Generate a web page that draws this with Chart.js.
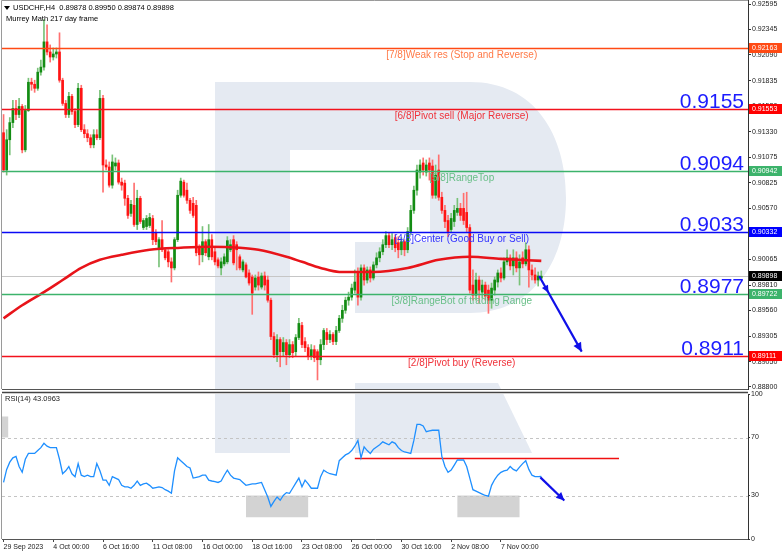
<!DOCTYPE html>
<html>
<head>
<meta charset="utf-8">
<title>USDCHF H4 - Murrey Math</title>
<script src="https://cdn.jsdelivr.net/npm/chart.js@4.4.0/dist/chart.umd.min.js"></script>
<style>
    body { margin: 0; background: #ffffff; width: 782px; height: 555px; overflow: hidden; position: relative; }
    #mainChart { position: absolute; left: 0; top: 0; }
    #rsiChart { position: absolute; left: 0; top: 391px; }
</style>
</head>
<body>
<canvas id="mainChart" width="782" height="391"></canvas>
<canvas id="rsiChart" width="782" height="164"></canvas>
<script>
'use strict';

// ---- data ----
const timeLabels = ['29 Sep 2023', '4 Oct 00:00', '6 Oct 16:00', '11 Oct 08:00', '16 Oct 00:00',
    '18 Oct 16:00', '23 Oct 08:00', '26 Oct 00:00', '30 Oct 16:00', '2 Nov 08:00', '7 Nov 00:00'];
const barsPerLabel = 16;
const slotCount = 240;

const opens = [
    0.9132, 0.9095, 0.9125, 0.9142, 0.9156, 0.9150, 0.9158, 0.9115, 0.9154, 0.9182,
    0.9180, 0.9176, 0.9192, 0.9197, 0.9222, 0.9212, 0.9207, 0.9210, 0.9212, 0.9184,
    0.9161, 0.9150, 0.9168, 0.9153, 0.9140, 0.9176, 0.9135, 0.9131, 0.9127, 0.9120,
    0.9130, 0.9127, 0.9166, 0.9100, 0.9098, 0.9080, 0.9099, 0.9102, 0.9083, 0.9082,
    0.9067, 0.9052, 0.9060, 0.9041, 0.9067, 0.9038, 0.9039, 0.9040, 0.9047, 0.9033,
    0.9016, 0.9026, 0.9016, 0.9014, 0.9004, 0.8998, 0.9026, 0.9070, 0.9083, 0.9075,
    0.9065, 0.9062, 0.9060, 0.9019, 0.9011, 0.9024, 0.9009, 0.9026, 0.9014, 0.9006,
    0.8998, 0.9002, 0.9004, 0.9016, 0.9026, 0.9021, 0.9009, 0.8996, 0.9001, 0.8993,
    0.8989, 0.8979, 0.8989, 0.8979, 0.8990, 0.8986, 0.8966, 0.8930, 0.8912, 0.8927,
    0.8915, 0.8924, 0.8912, 0.8922, 0.8915, 0.8929, 0.8941, 0.8925, 0.8919, 0.8910,
    0.8917, 0.8915, 0.8907, 0.8922, 0.8934, 0.8927, 0.8932, 0.8925, 0.8936, 0.8948,
    0.8956, 0.8966, 0.8969, 0.8976, 0.8994, 0.8969, 0.8998, 0.8986, 0.8996, 0.8988,
    0.9001, 0.9008, 0.9014, 0.9021, 0.9030, 0.9021, 0.9028, 0.9023, 0.9016, 0.9024,
    0.9016, 0.9034, 0.9055, 0.9075, 0.9093, 0.9102, 0.9093, 0.9102, 0.9099, 0.9070,
    0.9095, 0.9068, 0.9055, 0.9045, 0.9036, 0.9044, 0.9053, 0.9057, 0.9057, 0.9053,
    0.9038, 0.8981, 0.8971, 0.8986, 0.8974, 0.8981, 0.8976, 0.8966, 0.8976, 0.8984,
    0.8993, 0.8988, 0.9004, 0.9008, 0.9000, 0.9008, 0.8998, 0.9008, 0.9002, 0.9016,
    0.8996, 0.8991, 0.8986, 0.89878
];
const highs = [
    0.9150, 0.9135, 0.9147, 0.9164, 0.9164, 0.9166, 0.9160, 0.9159, 0.9186, 0.9186,
    0.9184, 0.9196, 0.9204, 0.9244, 0.9239, 0.9219, 0.9216, 0.9216, 0.9231, 0.9186,
    0.9164, 0.9172, 0.9170, 0.9156, 0.9181, 0.9179, 0.9140, 0.9135, 0.9130, 0.9135,
    0.9135, 0.9174, 0.9169, 0.9105, 0.9103, 0.9110, 0.9107, 0.9105, 0.9087, 0.9085,
    0.9070, 0.9065, 0.9082, 0.9075, 0.9069, 0.9047, 0.9050, 0.9052, 0.9050, 0.9036,
    0.9028, 0.9045, 0.9018, 0.9016, 0.9008, 0.9028, 0.9075, 0.9087, 0.9085, 0.9082,
    0.9067, 0.9068, 0.9065, 0.9021, 0.9039, 0.9026, 0.9041, 0.9031, 0.9018, 0.9008,
    0.9008, 0.9012, 0.9029, 0.9026, 0.9030, 0.9024, 0.9011, 0.9006, 0.9003, 0.8996,
    0.8991, 0.8991, 0.8994, 0.8993, 0.8994, 0.8990, 0.8968, 0.8934, 0.8932, 0.8929,
    0.8929, 0.8927, 0.8927, 0.8925, 0.8932, 0.8948, 0.8944, 0.8929, 0.8922, 0.8922,
    0.8921, 0.8917, 0.8927, 0.8938, 0.8938, 0.8936, 0.8934, 0.8940, 0.8951, 0.8961,
    0.8969, 0.8974, 0.8982, 0.8996, 0.8998, 0.9001, 0.9001, 0.8999, 0.8999, 0.9004,
    0.9013, 0.9018, 0.9026, 0.9034, 0.9033, 0.9032, 0.9031, 0.9029, 0.9028, 0.9026,
    0.9038, 0.9060, 0.9079, 0.9100, 0.9105, 0.9107, 0.9105, 0.9107, 0.9105, 0.9100,
    0.9110, 0.9073, 0.9060, 0.9050, 0.9052, 0.9060, 0.9067, 0.9062, 0.9072, 0.9073,
    0.9041, 0.8996, 0.8993, 0.8990, 0.8986, 0.8984, 0.8981, 0.8983, 0.8989, 0.8996,
    0.8998, 0.9008, 0.9016, 0.9011, 0.9016, 0.9014, 0.9011, 0.9014, 0.9023, 0.9020,
    0.9001, 0.8998, 0.8994, 0.89950
];
const lows = [
    0.9093, 0.9090, 0.9110, 0.9137, 0.9145, 0.9147, 0.9112, 0.9113, 0.9153, 0.9174,
    0.9172, 0.9174, 0.9189, 0.9194, 0.9209, 0.9202, 0.9204, 0.9206, 0.9182, 0.9159,
    0.9147, 0.9147, 0.9150, 0.9137, 0.9138, 0.9133, 0.9127, 0.9123, 0.9117, 0.9117,
    0.9125, 0.9125, 0.9073, 0.9095, 0.9078, 0.9077, 0.9095, 0.9081, 0.9075, 0.9060,
    0.9047, 0.9049, 0.9039, 0.9036, 0.9042, 0.9036, 0.9036, 0.9038, 0.9021, 0.9021,
    0.8999, 0.9014, 0.9006, 0.8999, 0.8984, 0.8996, 0.9024, 0.9068, 0.9068, 0.9062,
    0.9052, 0.9048, 0.9010, 0.9001, 0.9004, 0.9010, 0.9006, 0.9006, 0.9001, 0.8998,
    0.8991, 0.9000, 0.9002, 0.9014, 0.9001, 0.8996, 0.8996, 0.8994, 0.8988, 0.8981,
    0.8952, 0.8976, 0.8976, 0.8977, 0.8976, 0.8964, 0.8927, 0.8909, 0.8905, 0.8900,
    0.8911, 0.8902, 0.8909, 0.8909, 0.8911, 0.8927, 0.8919, 0.8915, 0.8907, 0.8907,
    0.8905, 0.8887, 0.8902, 0.8917, 0.8922, 0.8924, 0.8922, 0.8922, 0.8934, 0.8944,
    0.8953, 0.8961, 0.8966, 0.8973, 0.8961, 0.8966, 0.8981, 0.8983, 0.8984, 0.8986,
    0.8998, 0.9004, 0.9011, 0.9018, 0.9018, 0.9016, 0.9014, 0.9008, 0.9011, 0.9010,
    0.9013, 0.9031, 0.9052, 0.9070, 0.9087, 0.9090, 0.9089, 0.9085, 0.9067, 0.9067,
    0.9065, 0.9052, 0.9038, 0.9029, 0.9033, 0.9039, 0.9050, 0.9045, 0.9041, 0.9034,
    0.8973, 0.8966, 0.8966, 0.8963, 0.8968, 0.8966, 0.8953, 0.8958, 0.8971, 0.8979,
    0.8984, 0.8986, 0.9001, 0.8996, 0.8991, 0.8994, 0.8981, 0.8998, 0.9000, 0.8979,
    0.8986, 0.8983, 0.8980, 0.89874
];
const closes = [
    0.9095, 0.9125, 0.9142, 0.9156, 0.9150, 0.9158, 0.9115, 0.9154, 0.9182, 0.9180,
    0.9176, 0.9192, 0.9197, 0.9222, 0.9212, 0.9207, 0.9210, 0.9212, 0.9184, 0.9161,
    0.9150, 0.9168, 0.9153, 0.9140, 0.9176, 0.9135, 0.9131, 0.9127, 0.9120, 0.9130,
    0.9127, 0.9166, 0.9100, 0.9098, 0.9080, 0.9103, 0.9102, 0.9083, 0.9080, 0.9067,
    0.9050, 0.9061, 0.9041, 0.9067, 0.9044, 0.9045, 0.9047, 0.9048, 0.9026, 0.9024,
    0.9026, 0.9016, 0.9008, 0.9004, 0.8998, 0.9026, 0.9070, 0.9084, 0.9070, 0.9065,
    0.9055, 0.9050, 0.9013, 0.9011, 0.9024, 0.9013, 0.9026, 0.9009, 0.9004, 0.9000,
    0.9004, 0.9009, 0.9025, 0.9021, 0.9003, 0.9016, 0.8998, 0.9004, 0.8989, 0.8983,
    0.8973, 0.8988, 0.8981, 0.8990, 0.8981, 0.8966, 0.8930, 0.8912, 0.8927, 0.8915,
    0.8924, 0.8912, 0.8922, 0.8914, 0.8929, 0.8943, 0.8922, 0.8919, 0.8910, 0.8917,
    0.8909, 0.8907, 0.8922, 0.8936, 0.8927, 0.8932, 0.8925, 0.8936, 0.8948, 0.8956,
    0.8966, 0.8969, 0.8978, 0.8984, 0.8969, 0.8998, 0.8986, 0.8996, 0.8988, 0.9001,
    0.9008, 0.9014, 0.9021, 0.9030, 0.9021, 0.9026, 0.9018, 0.9016, 0.9024, 0.9016,
    0.9034, 0.9055, 0.9075, 0.9095, 0.9100, 0.9095, 0.9100, 0.9095, 0.9070, 0.9090,
    0.9068, 0.9055, 0.9044, 0.9034, 0.9047, 0.9055, 0.9057, 0.9050, 0.9045, 0.9038,
    0.8976, 0.8971, 0.8986, 0.8976, 0.8981, 0.8970, 0.8966, 0.8978, 0.8986, 0.8993,
    0.8988, 0.9004, 0.9008, 0.9000, 0.9008, 0.8998, 0.9004, 0.9002, 0.9016, 0.8996,
    0.8991, 0.8986, 0.8990, 0.89898
];

// moving average read at a few bars; the line joins them
const maBars = [0, 6, 13, 19, 25, 31, 38, 47, 57, 66, 76, 82, 91, 96, 102, 108, 119, 130, 140, 150, 160, 173];
const maValues = [0.8948, 0.8961, 0.8974, 0.8986, 0.8998, 0.9006, 0.9011, 0.9016, 0.9018, 0.9019, 0.9018,
    0.9016, 0.9009, 0.9004, 0.8998, 0.8994, 0.8994, 0.8998, 0.9006, 0.9009, 0.9007, 0.9005];

const rsiValues = [
    39, 48, 53, 56, 57, 50, 46, 55, 59, 59,
    59, 61, 63, 66, 64, 63, 63, 63, 55, 45,
    47, 50, 45, 43, 52, 44, 43, 44, 43, 43,
    52, 47, 40.6, 40.6, 37, 43, 42, 41, 37, 36,
    36, 35, 37, 40, 37, 38, 38.5, 37, 35, 35.5,
    36, 35.5, 34, 33, 31.6, 47, 56, 54, 52, 50,
    49, 42, 42.5, 43, 44, 44, 40.6, 40, 39.5, 39,
    40, 44, 47.5, 44, 42, 41.5, 41, 39, 37, 37.5,
    38, 38, 38.5, 39, 34, 29, 22.5, 26, 29, 26.7,
    30, 32, 31.5, 35, 38.5, 42, 36, 40.6, 38, 35,
    35, 35, 43, 47.5, 46, 45, 44.5, 44, 54, 56,
    58, 59, 61, 64, 68, 56, 63.5, 61, 59, 62,
    63.5, 65, 67, 66, 65, 67, 66, 63, 61, 60,
    59.5, 59, 68, 79, 79, 78, 74, 74.5, 75, 75,
    75, 57, 50, 46, 47.5, 51, 54.5, 54.5, 54.5, 50,
    42, 34, 33, 32, 31, 30, 29.5, 37, 41, 44,
    46, 47, 47.5, 50, 48, 47, 49.6, 52, 54, 48,
    44, 43, 43, 43.1
];

const priceTicks = [0.92595, 0.92345, 0.92090, 0.91835, 0.91580, 0.91330, 0.91075, 0.90825,
    0.90570, 0.90315, 0.90065, 0.89810, 0.89560, 0.89305, 0.89050, 0.88800];
const priceMin = 0.88780;
const priceMax = 0.92635;
const rsiTicks = [0, 30, 70, 100];
const rsiLevels = [30, 70];

// Murrey Math levels
const murreyLevels = [0.92163, 0.91553, 0.90942, 0.90332, 0.89722, 0.89111];
const murreyNames = ['[7/8]Weak res (Stop and Reverse)', '[6/8]Pivot sell (Major Reverse)', '[5/8]RangeTop',
    '[4/8]Center (Good Buy or Sell)', '[3/8]RangeBot of trading Range', '[2/8]Pivot buy (Reverse)'];
const murreyBig = ['', '0.9155', '0.9094', '0.9033', '0.8977', '0.8911'];
const murreyLineColors = ['#ff4a14', '#f2121c', '#3cb36b', '#0a0af5', '#3cb36b', '#f2121c'];
const murreyTextColors = ['#ff7a48', '#f0323a', '#69bf88', '#3434ff', '#69bf88', '#f0323a'];

// price tags on the right axis
const tagValues = [0.92163, 0.91553, 0.90942, 0.90332, 0.89898, 0.89722, 0.89111];
const tagColors = ['#ff4a14', '#ff0000', '#3cb36b', '#0000ff', '#000000', '#3cb36b', '#ff0000'];
const lastPrice = 0.89898;

const headerText = 'USDCHF,H4  0.89878 0.89950 0.89874 0.89898';
const indicatorText = 'Murrey Math 217 day frame';
const rsiText = 'RSI(14) 43.0963';

// drawn objects: [bar index, value]
const priceArrow = [[172.3, 0.8990], [186, 0.8915]];
const rsiArrow = [[172.7, 42.5], [180.4, 26.5]];
const rsiResistance = { from: 113, to: 198, value: 56 };
const rsiBoxes = [
    { from: -0.5, to: 1.5, low: 70, high: 84.5 },
    { from: 78, to: 98, low: 15, high: 30 },
    { from: 146, to: 166, low: 15, high: 30 }
];

// ---- chart setup ----
Chart.defaults.font.family = "'Liberation Sans', Arial, sans-serif";
Chart.defaults.color = '#1a1a1a';

const slotLabels = Array.from({ length: slotCount }, (_, i) =>
    (i % barsPerLabel === 0 && i / barsPerLabel < timeLabels.length) ? timeLabels[i / barsPerLabel] : '');

const isUp = opens.map((o, i) => closes[i] >= o);
const bodyData = opens.map((o, i) => {
    const c = closes[i];
    if (Math.abs(c - o) < 0.0001) {
        const m = (o + c) / 2;
        return [m - 0.00005, m + 0.00005];
    }
    return [o, c];
});
const wickData = lows.map((l, i) => [l, highs[i]]);
const maData = new Array(opens.length).fill(null);
maBars.forEach((b, k) => { maData[b] = maValues[k]; });

const LOGO = '#e5eaf2';

/**
 * Big faint "R" watermark, in page pixels
 */
function drawLogo(ctx, dy) {
    ctx.fillStyle = LOGO;
    ctx.fillRect(215, 82 - dy, 75, 371);
    ctx.beginPath();
    ctx.moveTo(290, 82 - dy);
    ctx.lineTo(470, 82 - dy);
    ctx.bezierCurveTo(535, 82 - dy, 566, 135 - dy, 566, 198 - dy);
    ctx.bezierCurveTo(566, 265 - dy, 530, 313 - dy, 470, 313 - dy);
    ctx.lineTo(355, 313 - dy);
    ctx.lineTo(355, 242 - dy);
    ctx.lineTo(430, 242 - dy);
    ctx.lineTo(430, 150 - dy);
    ctx.lineTo(290, 150 - dy);
    ctx.closePath();
    ctx.fill();
    ctx.beginPath();
    ctx.moveTo(355, 383 - dy);
    ctx.lineTo(498, 383 - dy);
    ctx.lineTo(532, 453 - dy);
    ctx.lineTo(355, 453 - dy);
    ctx.closePath();
    ctx.fill();
}

function arrowHead(ctx, x1, y1, x2, y2, size) {
    const ang = Math.atan2(y2 - y1, x2 - x1);
    ctx.beginPath();
    ctx.moveTo(x2, y2);
    ctx.lineTo(x2 - size * Math.cos(ang - 0.45), y2 - size * Math.sin(ang - 0.45));
    ctx.lineTo(x2 - size * Math.cos(ang + 0.45), y2 - size * Math.sin(ang + 0.45));
    ctx.closePath();
    ctx.fill();
}

function drawArrow(ctx, x1, y1, x2, y2, color, width, size) {
    ctx.strokeStyle = color;
    ctx.fillStyle = color;
    ctx.lineWidth = width;
    ctx.beginPath();
    ctx.moveTo(x1, y1);
    ctx.lineTo(x2, y2);
    ctx.stroke();
    arrowHead(ctx, x1, y1, x2, y2, size);
}

function clipArea(ctx, a) {
    ctx.beginPath();
    ctx.rect(a.left, a.top, a.right - a.left, a.bottom - a.top);
    ctx.clip();
}

const mainDecor = {
    id: 'mainDecor',
    beforeDatasetsDraw(chart) {
        const { ctx, chartArea: a, scales: { y } } = chart;
        ctx.save();
        clipArea(ctx, a);
        drawLogo(ctx, 0);
        const py = Math.round(y.getPixelForValue(lastPrice)) + 0.5;
        ctx.strokeStyle = '#c6c6c6';
        ctx.lineWidth = 1;
        ctx.beginPath();
        ctx.moveTo(a.left, py);
        ctx.lineTo(a.right, py);
        ctx.stroke();
        ctx.restore();
    },
    afterDatasetsDraw(chart) {
        const { ctx, chartArea: a, scales: { x, y } } = chart;
        ctx.save();
        clipArea(ctx, a);
        const labelX = x.getPixelForValue(147.4);
        murreyLevels.forEach((lv, k) => {
            const py = Math.round(y.getPixelForValue(lv)) + 0.5;
            ctx.strokeStyle = murreyLineColors[k];
            ctx.lineWidth = 1.4;
            ctx.beginPath();
            ctx.moveTo(a.left, py);
            ctx.lineTo(a.right, py);
            ctx.stroke();

            ctx.font = "10px 'Liberation Sans', Arial, sans-serif";
            ctx.fillStyle = murreyTextColors[k];
            ctx.textAlign = 'center';
            ctx.textBaseline = 'top';
            ctx.fillText(murreyNames[k], labelX, py + 2);

            if (murreyBig[k]) {
                ctx.font = "21px 'Liberation Sans', Arial, sans-serif";
                ctx.fillStyle = '#1c1cff';
                ctx.textAlign = 'right';
                ctx.textBaseline = 'alphabetic';
                ctx.fillText(murreyBig[k], a.right - 4, py - 2);
            }
        });

        const [p1, p2] = priceArrow;
        const x1 = x.getPixelForValue(p1[0]), y1 = y.getPixelForValue(p1[1]);
        const x2 = x.getPixelForValue(p2[0]), y2 = y.getPixelForValue(p2[1]);
        drawArrow(ctx, x1, y1, x2, y2, '#1010e8', 2.2, 10);
        const t = 0.22;
        arrowHead(ctx, x1, y1, x1 + (x2 - x1) * t, y1 + (y2 - y1) * t, 8);
        ctx.restore();
    },
    afterDraw(chart) {
        const { ctx, chartArea: a, scales: { y } } = chart;
        ctx.save();
        // frame
        ctx.strokeStyle = '#9a9a9a';
        ctx.lineWidth = 1;
        ctx.beginPath();
        ctx.moveTo(a.left - 0.5, a.bottom);
        ctx.lineTo(a.left - 0.5, a.top + 0.5);
        ctx.lineTo(a.right, a.top + 0.5);
        ctx.stroke();
        ctx.strokeStyle = '#555555';
        ctx.beginPath();
        ctx.moveTo(a.left, a.bottom + 0.5);
        ctx.lineTo(a.right, a.bottom + 0.5);
        ctx.stroke();

        // price tags
        ctx.font = "7px 'Liberation Sans', Arial, sans-serif";
        ctx.textAlign = 'left';
        ctx.textBaseline = 'middle';
        tagValues.forEach((v, k) => {
            const py = Math.round(y.getPixelForValue(v));
            ctx.fillStyle = tagColors[k];
            ctx.fillRect(a.right + 1, py - 5, 34, 10);
            ctx.fillStyle = '#ffffff';
            ctx.fillText(v.toFixed(5), a.right + 4, py + 0.5);
        });

        // header
        ctx.fillStyle = '#000000';
        ctx.beginPath();
        ctx.moveTo(4, 6);
        ctx.lineTo(10, 6);
        ctx.lineTo(7, 10);
        ctx.closePath();
        ctx.fill();
        ctx.font = "7.5px 'Liberation Sans', Arial, sans-serif";
        ctx.textBaseline = 'middle';
        ctx.fillText(headerText, 13, 8);
        ctx.fillText(indicatorText, 6, 19);
        ctx.restore();
    }
};

const rsiDecor = {
    id: 'rsiDecor',
    beforeDatasetsDraw(chart) {
        const { ctx, chartArea: a, scales: { x, y } } = chart;
        ctx.save();
        clipArea(ctx, a);
        drawLogo(ctx, 391);
        ctx.fillStyle = '#d3d3d3';
        rsiBoxes.forEach(b => {
            const x1 = x.getPixelForValue(b.from), x2 = x.getPixelForValue(b.to);
            const y1 = y.getPixelForValue(b.high), y2 = y.getPixelForValue(b.low);
            ctx.fillRect(x1, y1, x2 - x1, y2 - y1);
        });
        ctx.strokeStyle = '#c4c4c4';
        ctx.lineWidth = 1;
        ctx.setLineDash([3, 3]);
        rsiLevels.forEach(v => {
            const py = Math.round(y.getPixelForValue(v)) + 0.5;
            ctx.beginPath();
            ctx.moveTo(a.left, py);
            ctx.lineTo(a.right, py);
            ctx.stroke();
        });
        ctx.setLineDash([]);
        ctx.strokeStyle = '#f01010';
        ctx.lineWidth = 1.5;
        const ry = Math.round(y.getPixelForValue(rsiResistance.value)) + 0.5;
        ctx.beginPath();
        ctx.moveTo(x.getPixelForValue(rsiResistance.from), ry);
        ctx.lineTo(x.getPixelForValue(rsiResistance.to), ry);
        ctx.stroke();
        ctx.restore();
    },
    afterDatasetsDraw(chart) {
        const { ctx, chartArea: a, scales: { x, y } } = chart;
        ctx.save();
        clipArea(ctx, a);
        const [p1, p2] = rsiArrow;
        drawArrow(ctx, x.getPixelForValue(p1[0]), y.getPixelForValue(p1[1]),
            x.getPixelForValue(p2[0]), y.getPixelForValue(p2[1]), '#1010e8', 2.2, 9);
        ctx.restore();

        ctx.save();
        ctx.strokeStyle = '#9a9a9a';
        ctx.lineWidth = 1;
        ctx.beginPath();
        ctx.moveTo(a.left - 0.5, a.top);
        ctx.lineTo(a.left - 0.5, a.bottom);
        ctx.stroke();
        ctx.strokeStyle = '#444444';
        ctx.lineWidth = 1.5;
        ctx.beginPath();
        ctx.moveTo(a.left, a.top - 1.5);
        ctx.lineTo(a.right, a.top - 1.5);
        ctx.stroke();
        ctx.fillStyle = '#1a1a1a';
        ctx.font = "7.5px 'Liberation Sans', Arial, sans-serif";
        ctx.textBaseline = 'middle';
        ctx.fillText(rsiText, 5, 8);
        ctx.restore();
    }
};

function fixWidth(scale) {
    scale.width = 34;
    scale.paddingTop = 0;
    scale.paddingBottom = 0;
}

new Chart(document.getElementById('mainChart'), {
    type: 'bar',
    data: {
        labels: slotLabels,
        datasets: [
            {
                type: 'line',
                data: maData,
                borderColor: '#e8141a',
                borderWidth: 2.6,
                pointRadius: 0,
                spanGaps: true,
                cubicInterpolationMode: 'monotone',
                order: 0
            },
            {
                data: bodyData,
                backgroundColor: isUp.map(u => u ? '#138c13' : '#ff1414'),
                barThickness: 2,
                grouped: false,
                borderWidth: 0,
                order: 1
            },
            {
                data: wickData,
                backgroundColor: isUp.map(u => u ? '#79c279' : '#ff7070'),
                barThickness: 1,
                grouped: false,
                borderWidth: 0,
                order: 2
            }
        ]
    },
    options: {
        responsive: false,
        animation: false,
        events: [],
        devicePixelRatio: 1,
        layout: { padding: { left: 2, top: 0, right: 0, bottom: 2 } },
        plugins: { legend: { display: false }, tooltip: { enabled: false } },
        scales: {
            x: { display: false, offset: true },
            y: {
                position: 'right',
                min: priceMin,
                max: priceMax,
                afterBuildTicks: s => { s.ticks = priceTicks.map(v => ({ value: v })); },
                afterFit: fixWidth,
                grid: { drawOnChartArea: false, tickLength: 3, color: '#333333' },
                border: { color: '#333333' },
                ticks: {
                    font: { size: 7 },
                    color: '#1a1a1a',
                    padding: 1,
                    callback: v => v.toFixed(5)
                }
            }
        }
    },
    plugins: [mainDecor]
});

new Chart(document.getElementById('rsiChart'), {
    type: 'line',
    data: {
        labels: slotLabels,
        datasets: [{
            data: rsiValues,
            borderColor: '#1e8fff',
            borderWidth: 1.3,
            pointRadius: 0,
            tension: 0
        }]
    },
    options: {
        responsive: false,
        animation: false,
        events: [],
        devicePixelRatio: 1,
        layout: { padding: { left: 2, top: 3, right: 0, bottom: 0 } },
        plugins: { legend: { display: false }, tooltip: { enabled: false } },
        scales: {
            x: {
                offset: true,
                afterBuildTicks: s => { s.ticks = s.ticks.filter(t => slotLabels[t.value] !== ''); },
                afterFit: s => { s.height = 16; },
                grid: { drawOnChartArea: false, offset: false, tickLength: 3, color: '#444444' },
                border: { color: '#555555' },
                ticks: {
                    autoSkip: false,
                    maxRotation: 0,
                    align: 'start',
                    padding: 1,
                    font: { size: 7 },
                    color: '#1a1a1a'
                }
            },
            y: {
                position: 'right',
                min: 0,
                max: 100,
                afterBuildTicks: s => { s.ticks = rsiTicks.map(v => ({ value: v })); },
                afterFit: fixWidth,
                grid: { drawOnChartArea: false, tickLength: 2, color: '#333333' },
                border: { color: '#333333' },
                ticks: { font: { size: 7 }, color: '#1a1a1a', padding: 1 }
            }
        }
    },
    plugins: [rsiDecor]
});
</script>
</body>
</html>
